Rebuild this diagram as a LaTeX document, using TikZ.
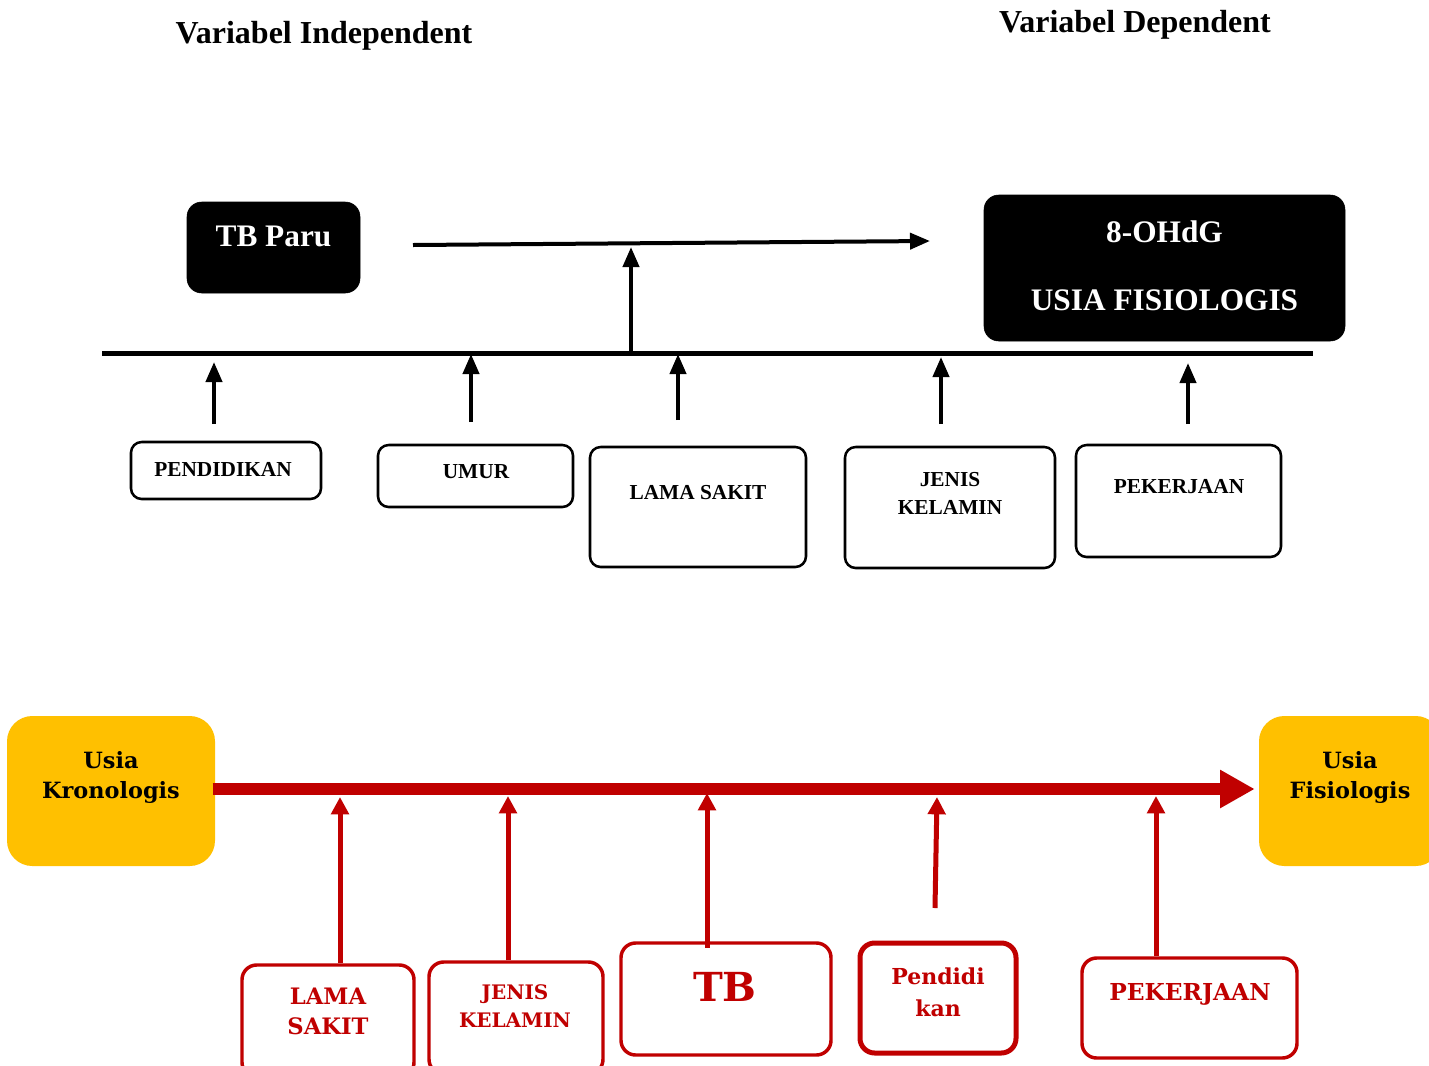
\documentclass[tikz,border=0pt]{standalone}
\usepackage{fontspec}
\setmainfont{Liberation Serif}
\newfontfamily\geo{DejaVu Serif}
\usetikzlibrary{arrows.meta,calc}
\definecolor{dred}{HTML}{C00000}
\definecolor{gold}{HTML}{FFC000}
\begin{document}
\begin{tikzpicture}[x=0.75pt,y=-0.75pt,
  blackbox/.style={draw=black,fill=black,rounded corners=11pt,inner sep=0pt},
  whitebox/.style={draw=black,line width=1.9pt,fill=white,rounded corners=8pt,inner sep=0pt},
  goldbox/.style={fill=gold,rounded corners=19pt,inner sep=0pt},
  redbox/.style={draw=dred,line width=2.6pt,fill=white,rounded corners=11pt,inner sep=0pt},
  ttl/.style={font=\bfseries\fontsize{24}{28}\selectfont},
  wtxt/.style={text=white,font=\bfseries\fontsize{23.5}{28}\selectfont},
  stxt/.style={font=\bfseries\fontsize{16}{21}\selectfont,align=center},
  btxt/.style={font=\geo\bfseries\fontsize{16.8}{23}\selectfont,align=center},
  rtxt/.style={text=dred,font=\geo\bfseries\fontsize{16.5}{24}\selectfont,align=center},
  karrow/.style={line width=3pt,-{Triangle[length=15pt,width=12pt]}},
  rarrow/.style={draw=dred,line width=3.75pt,-{Triangle[length=13pt,width=13pt]}}
]
\useasboundingbox (0,0) rectangle (1429,1065);
\fill[white] (0,0) rectangle (1429,1065);
\clip (0,0) rectangle (1429,1065);

% titles
\node[ttl] (tind) at (324,36) {Variabel Independent};
\node[ttl] (tdep) at (1135,25) {Variabel Dependent};

% top boxes
\node[blackbox,minimum width=129.75pt,minimum height=68.25pt] (tb) at (273.5,247.5) {};
\node[wtxt] (tbt) at (273.5,236) {TB Paru};
\node[blackbox,minimum width=270.75pt,minimum height=109.5pt] (ohdg) at (1164.5,268) {};
\node[wtxt] (ohdgt1) at (1164.5,232) {8-OHdG};
\node[wtxt] (ohdgt2) at (1164.5,300) {USIA FISIOLOGIS};

\node[whitebox,minimum width=142.5pt,minimum height=42.75pt] (pend) at (226,470.5) {};
\node[stxt] (pendt) at (223,469) {PENDIDIKAN};
\node[whitebox,minimum width=146.25pt,minimum height=46.5pt] (umur) at (475.5,476) {};
\node[stxt] (umurt) at (476,472) {UMUR};
\node[whitebox,minimum width=162pt,minimum height=90pt] (lama) at (698,507) {};
\node[stxt] (lamat) at (698,493) {LAMA SAKIT};
\node[whitebox,minimum width=157.5pt,minimum height=90.75pt] (jenis) at (950,507.5) {};
\node[stxt] (jenist) at (950,493) {JENIS\\KELAMIN};
\node[whitebox,minimum width=153.75pt,minimum height=84pt] (kerja) at (1178.5,501) {};
\node[stxt] (kerjat) at (1179,487) {PEKERJAAN};

% top lines
\coordinate (hl) at (102,353);
\coordinate (hr) at (1313,353);
\draw[line width=3.75pt] (hl) -- (hr);
\coordinate (as) at (413,245);
\coordinate (ae) at (930,241);
\draw[karrow] (as) -- (ae);
\coordinate (vb) at (631,353);
\coordinate (vt) at (631,247);
\draw[karrow] (vb) -- (vt);
\coordinate (p1) at (214,424); \coordinate (q1) at (214,362);
\coordinate (p2) at (471,422); \coordinate (q2) at (471,354);
\coordinate (p3) at (678,420); \coordinate (q3) at (678,354);
\coordinate (p4) at (941,424); \coordinate (q4) at (941,357);
\coordinate (p5) at (1188,424); \coordinate (q5) at (1188,363);
\foreach \i in {1,...,5} \draw[karrow] (p\i) -- (q\i);

% bottom
\node[goldbox,minimum width=156pt,minimum height=112.5pt] (kron) at (111,791) {};
\node[btxt] (kront) at (111,777.5) {Usia\\Kronologis};
\node[goldbox,minimum width=136.5pt,minimum height=112.5pt] (fis) at (1350,791) {};
\node[btxt] (fist) at (1350,777.5) {Usia\\Fisiologis};

\draw[draw=dred,line width=9pt,-{Triangle[length=26pt,width=27pt]}]
  ([xshift=-2pt,yshift=1.5pt]kron.east) -- ([xshift=-3pt,yshift=1.5pt]fis.west);

\node[redbox,minimum width=129pt,minimum height=84pt] (rls) at (328,1021) {};
\node[rtxt,font=\geo\bfseries\fontsize{17}{23}\selectfont] (rlst) at (328,1011.5) {LAMA\\SAKIT};
\node[redbox,minimum width=130.5pt,minimum height=84pt] (rjk) at (516,1018) {};
\node[rtxt,font=\geo\bfseries\fontsize{15}{21}\selectfont] (rjkt) at (515,1006) {JENIS\\KELAMIN};
\node[redbox,minimum width=157.5pt,minimum height=84pt] (rtb) at (726,999) {};
\node[rtxt,font=\geo\bfseries\fontsize{30}{34}\selectfont] (rtbt) at (725,987) {TB};
\node[redbox,line width=3.75pt,minimum width=117pt,minimum height=82.5pt] (rpd) at (938,998) {};
\node[rtxt] (rpdt) at (938,992) {Pendidi\\kan};
\node[redbox,minimum width=161.25pt,minimum height=75pt] (rpk) at (1189.5,1008) {};
\node[rtxt,font=\geo\bfseries\fontsize{17.5}{22}\selectfont] (rpkt) at (1190,994) {PEKERJAAN};

\coordinate (r1) at (340,797);
\coordinate (r2) at (508,796);
\coordinate (r3) at (707,793);
\coordinate (r4) at (937,797);
\coordinate (r4b) at (935,908);
\coordinate (r5) at (1156,796);
\draw[rarrow] (rls.north -| r1) -- (r1);
\draw[rarrow] (rjk.north -| r2) -- (r2);
\draw[rarrow] ([yshift=-5pt]rtb.north -| r3) -- (r3);
\draw[rarrow] (r4b) -- (r4);
\draw[rarrow] (rpk.north -| r5) -- (r5);
\end{tikzpicture}
\end{document}
